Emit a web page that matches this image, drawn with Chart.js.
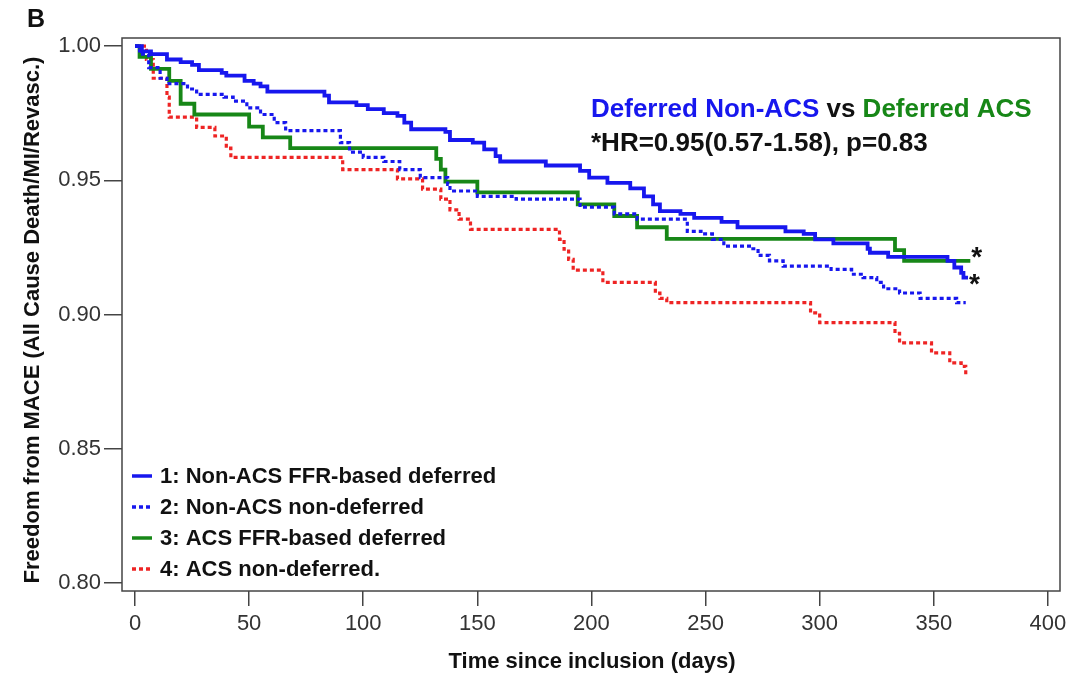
<!DOCTYPE html>
<html lang="en">
<head>
    <meta charset="UTF-8">
    <title>Freedom from MACE - Kaplan-Meier</title>
    <script src="https://cdn.jsdelivr.net/npm/chart.js"></script>
    <style>
        body { margin: 0; background: #fff; }
        #wrap { width: 1089px; height: 673px; }
    </style>
</head>
<body>
    <div id="wrap"><canvas id="kmChart" width="1089" height="673"></canvas></div>

    <script>
        // survival curves (days, freedom from MACE)
        const seriesLabels = ['1: Non-ACS FFR-based deferred', '2: Non-ACS non-deferred', '3: ACS FFR-based deferred', '4: ACS non-deferred.'];

        const days1 = [0, 3, 7, 14, 20, 25, 28, 38, 40, 48, 52, 55, 58, 83, 85, 97, 102, 109, 115, 118, 121, 136, 138, 148, 153, 158, 160, 180, 195, 199, 207, 217, 223, 227, 230, 239, 245, 257, 264, 285, 293, 298, 306, 321, 322, 330, 356, 359, 362, 363, 365];
        const surv1 = [1.000, 0.998, 0.997, 0.995, 0.994, 0.993, 0.991, 0.990, 0.989, 0.987, 0.986, 0.985, 0.983, 0.9815, 0.979, 0.978, 0.9765, 0.975, 0.974, 0.9715, 0.969, 0.968, 0.965, 0.964, 0.9615, 0.959, 0.957, 0.9555, 0.9535, 0.951, 0.949, 0.947, 0.944, 0.941, 0.9385, 0.9375, 0.936, 0.9345, 0.9325, 0.931, 0.930, 0.928, 0.9265, 0.9245, 0.923, 0.9215, 0.920, 0.9175, 0.9155, 0.9137, 0.9137];

        const days2 = [0, 2, 6, 11, 14, 23, 27, 39, 43, 49, 55, 61, 66, 90, 94, 100, 109, 116, 125, 137, 138, 150, 167, 195, 210, 220, 242, 248, 253, 258, 270, 273, 278, 284, 305, 314, 319, 325, 328, 335, 344, 360, 364];
        const surv2 = [1.000, 0.997, 0.992, 0.988, 0.986, 0.984, 0.982, 0.981, 0.9795, 0.977, 0.9745, 0.9715, 0.9685, 0.964, 0.9605, 0.9585, 0.957, 0.954, 0.951, 0.9485, 0.946, 0.944, 0.943, 0.940, 0.9375, 0.9355, 0.931, 0.930, 0.928, 0.9255, 0.9245, 0.922, 0.920, 0.918, 0.9168, 0.915, 0.9137, 0.912, 0.9096, 0.908, 0.906, 0.9044, 0.9044];

        const days3 = [0, 2, 7, 15, 20, 26, 50, 56, 68, 132, 134, 136, 150, 194, 210, 220, 233, 333, 337, 366];
        const surv3 = [1.000, 0.996, 0.9915, 0.987, 0.9785, 0.9745, 0.970, 0.966, 0.962, 0.958, 0.954, 0.9495, 0.9455, 0.941, 0.9367, 0.9325, 0.9282, 0.924, 0.920, 0.920];

        const days4 = [0, 5, 8, 14, 15, 27, 35, 40, 42, 91, 115, 126, 134, 138, 142, 147, 186, 188, 190, 192, 205, 228, 230, 233, 296, 300, 333, 335, 349, 357, 362, 364];
        const surv4 = [1.000, 0.995, 0.988, 0.981, 0.9735, 0.9697, 0.9665, 0.962, 0.9585, 0.954, 0.9505, 0.9467, 0.943, 0.939, 0.9355, 0.9317, 0.928, 0.9243, 0.9205, 0.9165, 0.912, 0.908, 0.906, 0.9044, 0.9006, 0.897, 0.893, 0.8894, 0.8857, 0.882, 0.8807, 0.8776];

        const xTicks = [0, 50, 100, 150, 200, 250, 300, 350, 400];
        const yTicks = [0.80, 0.85, 0.90, 0.95, 1.00];

        const BLUE = '#1717ee';
        const GREEN = '#178717';
        const RED = '#ee2424';
        const FONT = '"Liberation Sans", Arial, sans-serif';

        function toPoints(days, surv) {
            return days.map((d, i) => ({ x: d, y: surv[i] }));
        }

        function kmDataset(label, days, surv, color, dash) {
            return {
                label: label,
                data: toPoints(days, surv),
                borderColor: color,
                borderWidth: dash ? 3.2 : 3.8,
                borderDash: dash || [],
                stepped: true,
                pointRadius: 0,
                fill: false
            };
        }

        // frame, annotation text, inset legend and axis titles
        const decorations = {
            id: 'decorations',
            afterDraw(chart) {
                const ctx = chart.ctx;
                const area = chart.chartArea;
                const xs = chart.scales.x;
                const ys = chart.scales.y;
                ctx.save();

                ctx.strokeStyle = '#444';
                ctx.lineWidth = 1.5;
                ctx.strokeRect(area.left, area.top, area.right - area.left, area.bottom - area.top);

                ctx.fillStyle = '#111';
                ctx.font = 'bold 25px ' + FONT;
                ctx.textBaseline = 'alphabetic';
                ctx.textAlign = 'left';
                ctx.fillText('B', 27, 27);

                // comparison heading
                ctx.font = 'bold 26px ' + FONT;
                let x = 591;
                const parts = [['Deferred Non-ACS', BLUE], [' vs ', '#111'], ['Deferred ACS', GREEN]];
                parts.forEach(([txt, col]) => {
                    ctx.fillStyle = col;
                    ctx.fillText(txt, x, 117);
                    x += ctx.measureText(txt).width;
                });
                ctx.fillStyle = '#111';
                ctx.fillText('*HR=0.95(0.57-1.58), p=0.83', 591, 151);

                // asterisks at the ends of the two deferred curves
                ctx.font = 'bold 28px ' + FONT;
                const ends = [[days3, surv3, -11], [days1, surv1, -1]];
                ends.forEach(([d, s, dy]) => {
                    const px = xs.getPixelForValue(d[d.length - 1]);
                    const py = ys.getPixelForValue(s[s.length - 1]);
                    ctx.fillText('*', px + 1, py + dy + 16);
                });

                // legend inside the plot
                ctx.font = 'bold 22px ' + FONT;
                ctx.textBaseline = 'middle';
                chart.data.datasets.forEach((ds, i) => {
                    const y = 476 + i * 31;
                    ctx.strokeStyle = ds.borderColor;
                    ctx.lineWidth = 3.5;
                    ctx.setLineDash(ds.borderDash.length ? [4, 3] : []);
                    ctx.beginPath();
                    ctx.moveTo(132, y);
                    ctx.lineTo(152, y);
                    ctx.stroke();
                    ctx.setLineDash([]);
                    ctx.fillStyle = '#111';
                    ctx.fillText(seriesLabels[i], 160, y + 1);
                });

                // axis titles
                ctx.font = 'bold 22px ' + FONT;
                ctx.textAlign = 'center';
                ctx.fillText('Time since inclusion (days)', 592, 662);
                ctx.translate(33, 320);
                ctx.rotate(-Math.PI / 2);
                ctx.fillText('Freedom from MACE (All Cause Death/MI/Revasc.)', 0, 0);

                ctx.restore();
            }
        };

        const tickFont = { family: FONT, size: 22 };

        new Chart(document.getElementById('kmChart').getContext('2d'), {
            type: 'line',
            data: {
                datasets: [
                    kmDataset(seriesLabels[0], days1, surv1, BLUE),
                    kmDataset(seriesLabels[1], days2, surv2, BLUE, [4, 3]),
                    kmDataset(seriesLabels[2], days3, surv3, GREEN),
                    kmDataset(seriesLabels[3], days4, surv4, RED, [4, 3])
                ]
            },
            options: {
                responsive: false,
                animation: false,
                layout: { padding: { top: 38, right: 29, left: 0, bottom: 0 } },
                plugins: {
                    legend: { display: false },
                    tooltip: { enabled: false }
                },
                scales: {
                    x: {
                        type: 'linear',
                        min: -5.7,
                        max: 405.3,
                        afterBuildTicks: axis => { axis.ticks = xTicks.map(v => ({ value: v })); },
                        afterFit: axis => { axis.height = 82; },
                        border: { display: false },
                        grid: { drawOnChartArea: false, drawTicks: true, tickLength: 15, color: '#444', lineWidth: 1.5 },
                        ticks: { font: tickFont, color: '#333', padding: 5, maxRotation: 0 }
                    },
                    y: {
                        type: 'linear',
                        min: 0.797,
                        max: 1.003,
                        afterBuildTicks: axis => { axis.ticks = yTicks.map(v => ({ value: v })); },
                        afterFit: axis => { axis.width = 122; },
                        border: { display: false },
                        grid: { drawOnChartArea: false, drawTicks: true, tickLength: 18, color: '#444', lineWidth: 1.5 },
                        ticks: { font: tickFont, color: '#333', padding: 3, callback: v => v.toFixed(2) }
                    }
                }
            },
            plugins: [decorations]
        });
    </script>
</body>
</html>
